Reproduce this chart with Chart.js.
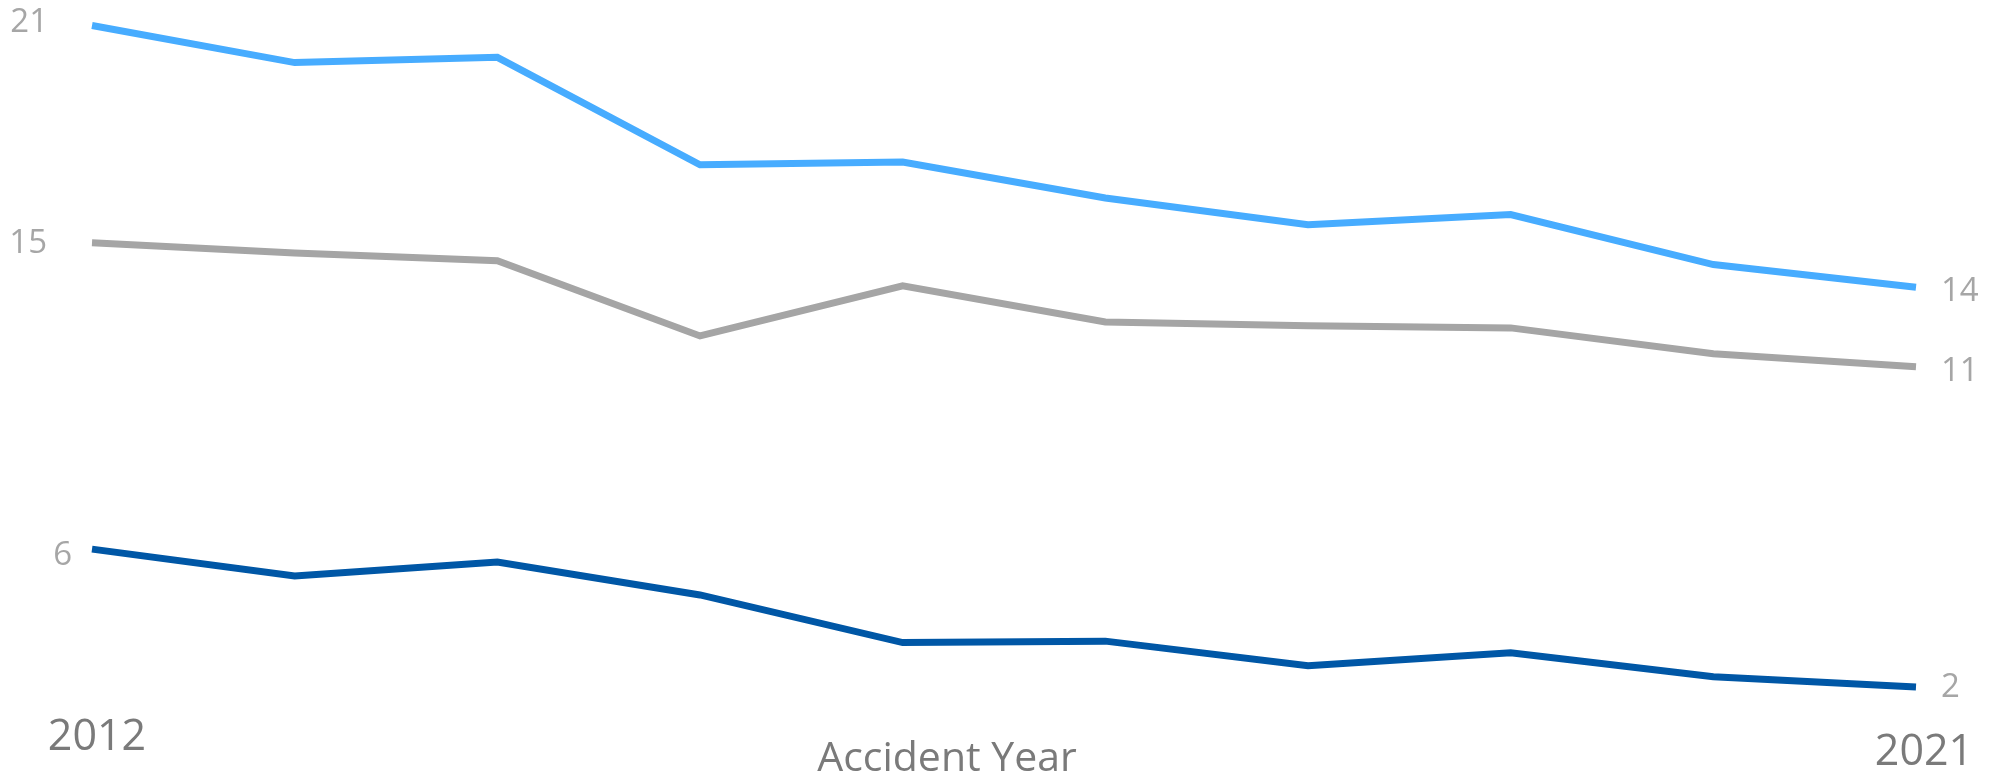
<html lang="en"><head>
<meta charset="utf-8">
<title>Accident Year trend</title>
<style>
  * { margin: 0; padding: 0; box-sizing: border-box; }
  body { background: #ffffff; width: 2003px; height: 778px; overflow: hidden; }
  #chart { display: block; }
</style>
</head>
<body>
<canvas id="chart" width="2003" height="778"></canvas>
<script src="https://cdn.jsdelivr.net/npm/chart.js@4.4.1/dist/chart.umd.min.js"></script>
<script>
// categories
const years = ['2012', '2013', '2014', '2015', '2016', '2017', '2018', '2019', '2020', '2021'];
// series values
const upperSeries = [21.10, 20.04, 20.19, 17.12, 17.20, 16.17, 15.41, 15.70, 14.27, 13.62];
const middleSeries = [14.89, 14.60, 14.38, 12.23, 13.66, 12.63, 12.52, 12.46, 11.72, 11.35];
const lowerSeries = [6.14, 5.37, 5.77, 4.83, 3.47, 3.51, 2.81, 3.18, 2.49, 2.20];
const axisTitle = 'Accident Year';

// label placement for the start/end value labels of each series (dx, dy from the point)
const labelStyle = [
  { startDx: -44, startDy: -3, endDx: 25, endDy: 4 },
  { startDx: -45, startDy: 1, endDx: 25, endDy: 5 },
  { startDx: -20, startDy: 6, endDx: 25, endDy: 1 }
];

//draws the value labels at both ends, the two end years and the axis title
const endLabels = {
  id: 'endLabels',
  afterDatasetsDraw(chart) {
    const ctx = chart.ctx;
    ctx.save();
    ctx.font = '33px "Open Sans"';
    ctx.fillStyle = '#a6a6a6';
    ctx.textBaseline = 'middle';
    chart.data.datasets.forEach((ds, i) => {
      const pts = chart.getDatasetMeta(i).data;
      const first = pts[0], last = pts[pts.length - 1];
      const st = labelStyle[i];
      ctx.textAlign = 'right';
      ctx.fillText(Math.round(ds.data[0]), first.x + st.startDx, first.y + st.startDy);
      ctx.textAlign = 'left';
      ctx.fillText(Math.round(ds.data[ds.data.length - 1]), last.x + st.endDx, last.y + st.endDy);
    });

    const x = chart.scales.x;
    ctx.fillStyle = '#7a7a7a';
    ctx.textBaseline = 'alphabetic';
    ctx.textAlign = 'center';
    ctx.font = '43px "Open Sans"';
    ctx.fillText(years[0], x.getPixelForValue(0) + 5, 750);
    ctx.fillText(years[years.length - 1], x.getPixelForValue(years.length - 1) + 8, 765);
    ctx.font = '41px "Open Sans"';
    ctx.fillText(axisTitle, (chart.chartArea.left + chart.chartArea.right) / 2 - 57, 771);
    ctx.restore();
  }
};

new Chart(document.getElementById('chart'), {
  type: 'line',
  plugins: [endLabels],
  data: {
    labels: years,
    datasets: [
      { label: 'Series 1', data: upperSeries, borderColor: '#47acff' },
      { label: 'Series 2', data: middleSeries, borderColor: '#a5a5a5' },
      { label: 'Series 3', data: lowerSeries, borderColor: '#0057a6' }
    ]
  },
  options: {
    responsive: false,
    animation: false,
    layout: { padding: { left: 92, right: 87, top: 8, bottom: 66.5 } },
    elements: {
      line: { borderWidth: 7, tension: 0, borderJoinStyle: 'miter', fill: false },
      point: { radius: 0, hoverRadius: 0 }
    },
    scales: {
      x: { display: false, offset: false },
      y: { display: false, min: 1.5, max: 21.6 }
    },
    plugins: {
      legend: { display: false },
      tooltip: { enabled: false }
    }
  }
});
</script>
</body></html>
